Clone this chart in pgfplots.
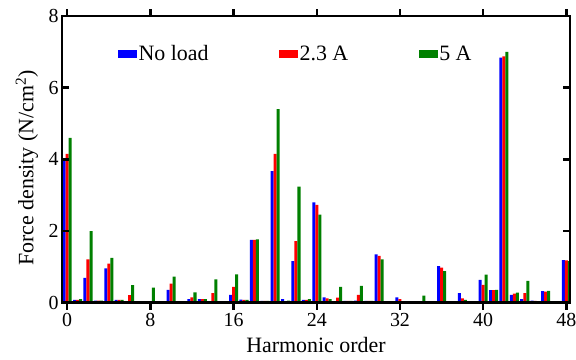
\documentclass[border=0pt]{standalone}
\usepackage{fontspec}
\setmainfont{Liberation Serif}
\usepackage{pgfplots}
\pgfplotsset{compat=1.18}
\usepackage{pgfplotstable}
\definecolor{mblue}{RGB}{0,0,255}
\definecolor{mred}{RGB}{255,0,0}
\definecolor{mgreen}{RGB}{0,128,0}
\pgfplotsset{sqlegend/.style={legend image code/.code={\fill[##1] (0bp,-4bp) rectangle (19bp,4bp);}}}
\pgfplotstableread{
h a b c
0 4.00 4.15 4.60
1 0.08 0.08 0.10
2 0.69 1.21 2.00
3 0.06 0.06 0.06
4 0.96 1.09 1.25
5 0.08 0.08 0.08
6 0.01 0.21 0.49
7 0.02 0.02 0.02
8 0.00 0.01 0.42
9 0.03 0.03 0.03
10 0.36 0.53 0.73
11 0.04 0.04 0.04
12 0.10 0.15 0.29
13 0.10 0.10 0.10
14 0.03 0.27 0.65
15 0.04 0.03 0.04
16 0.22 0.44 0.79
17 0.085 0.08 0.08
18 1.75 1.75 1.77
19 0.05 0.05 0.05
20 3.67 4.15 5.40
21 0.10 0.03 0.06
22 1.16 1.72 3.24
23 0.08 0.08 0.10
24 2.80 2.73 2.46
25 0.15 0.12 0.10
26 0.03 0.14 0.44
27 0.05 0.05 0.05
28 0.06 0.22 0.47
29 0.05 0.05 0.05
30 1.35 1.31 1.21
31 0.04 0.04 0.04
32 0.15 0.10 0.03
33 0.04 0.04 0.04
34 0.03 0.03 0.20
35 0.01 0.01 0.01
36 1.02 0.98 0.88
37 0.005 0.005 0.005
38 0.27 0.12 0.08
39 0.01 0.01 0.01
40 0.64 0.50 0.78
41 0.35 0.35 0.36
42 6.84 6.87 7.00
43 0.22 0.25 0.28
44 0.10 0.27 0.61
45 0.06 0.05 0.04
46 0.32 0.31 0.33
47 0.005 0.005 0.005
48 1.19 1.18 1.16
}\datatable
\begin{document}
\begin{tikzpicture}
\useasboundingbox (-62bp,-57.3bp) rectangle (514bp,302.7bp);
\begin{axis}[
  scale only axis, width=508bp, height=286.7bp,
  at={(0,0)}, anchor=south west,
  xmin=-0.5, xmax=48.35, ymin=0, ymax=8,
  clip=false,
  xtick={0,8,...,48}, ytick={0,2,...,8},
  xtick pos=both, ytick pos=both,
  tick align=inside, major tick length=7bp,
  axis line style={black, line width=2.5bp},
  major tick style={black, line width=2.5bp},
  axis on top,
  ybar, bar width=0.29,
  tick label style={font=\fontsize{20}{22}\selectfont},
  label style={font=\fontsize{22}{24}\selectfont},
  /pgf/number format/assume math mode=true,
  xlabel={Harmonic order},
  ylabel={Force density (N/cm\textsuperscript{2})},
  xlabel style={at={(axis description cs:0.5,-0.1475)}, anchor=center},
  ylabel style={at={(axis description cs:-0.069,0.47)}, anchor=center},
  legend style={at={(axis description cs:0.11,0.869)}, anchor=west, draw=none, fill=none, inner sep=0pt,
    font=\fontsize{22}{24}\selectfont,
    /tikz/every even column/.append style={column sep=69bp},
    nodes={inner sep=1.5bp}},
  legend columns=3,
]
\addplot[bar shift=-0.29, fill=mblue, draw=none, sqlegend] table[x=h,y=a]{\datatable};
\addlegendentry{No load}
\addplot[bar shift=0, fill=mred, draw=none, sqlegend] table[x=h,y=b]{\datatable};
\addlegendentry{2.3 A}
\addplot[bar shift=0.29, fill=mgreen, draw=none, sqlegend] table[x=h,y=c]{\datatable};
\addlegendentry{5 A}
\draw[black, line width=2.5bp] (rel axis cs:0,0) rectangle (rel axis cs:1,1);
\end{axis}
\end{tikzpicture}
\end{document}
